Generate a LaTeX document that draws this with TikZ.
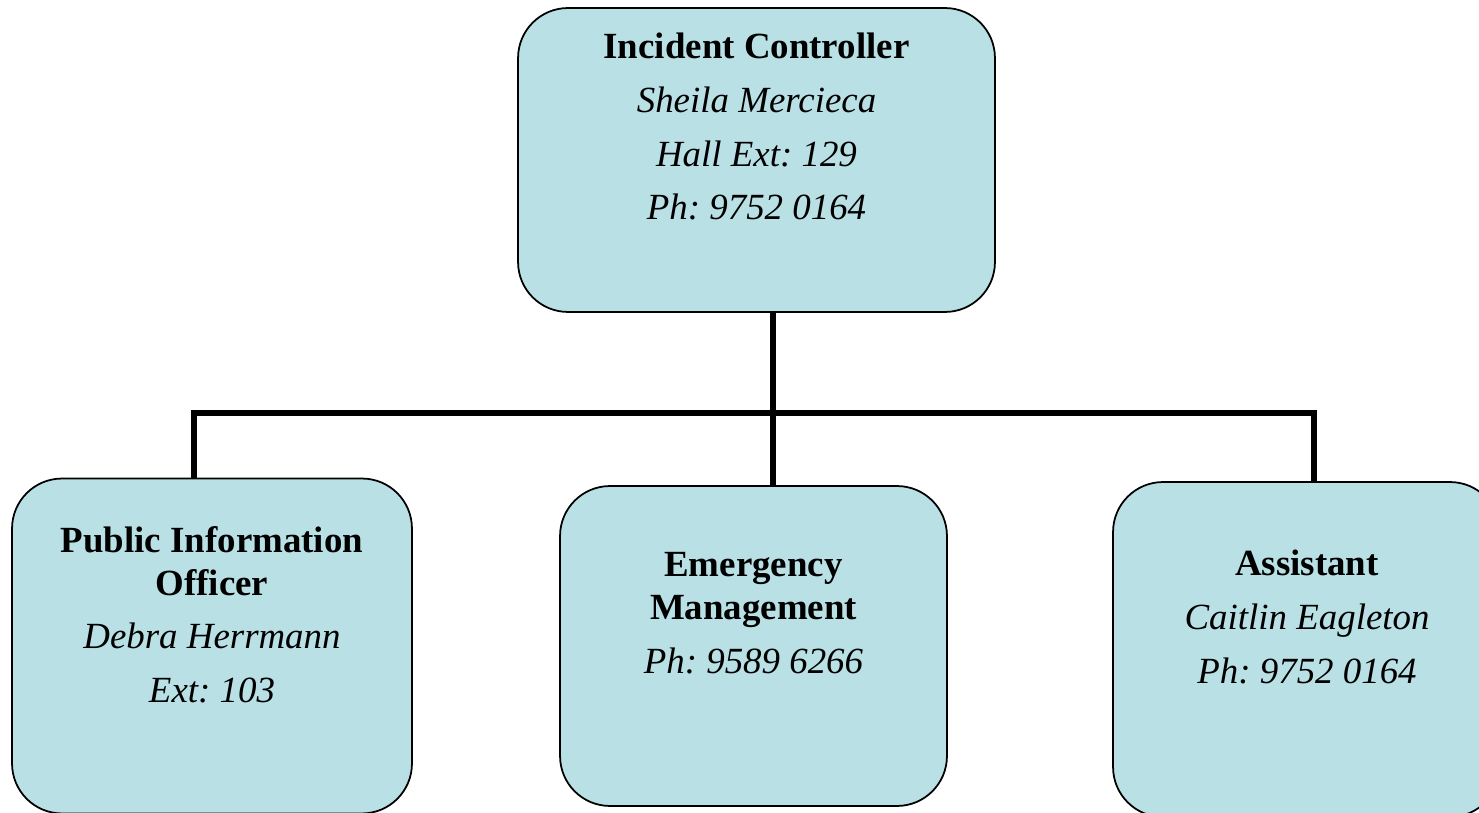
\documentclass[tikz,border=0pt]{standalone}
\usepackage{fontspec}
\setmainfont{Liberation Serif}
\usepackage{xcolor}
\usetikzlibrary{positioning}
\definecolor{boxteal}{RGB}{185, 224, 229}
\frenchspacing

\tikzset{
  orgbox/.style={draw, line width=1pt, fill=boxteal, rounded corners=1cm, inner sep=0pt},
  orgtext/.style={anchor=north, inner sep=0pt, align=center, font=\fontsize{21}{24.5}\selectfont},
  link/.style={line width=3pt}
}

\begin{document}
\begin{tikzpicture}[x=0.02cm, y=-0.02cm]
\useasboundingbox (0,0) rectangle (1479,813);
\clip (0,0) rectangle (1479,813);

% Incident controller
\node[orgbox, minimum width=9.54cm, minimum height=6.08cm] (ic) at (756.5,160) {};
\node[orgtext] (ictext) at (756.5,33) {\textbf{Incident Controller}\\[6pt]\textit{Sheila Mercieca}\\[6pt]\textit{Hall Ext: 129}\\[6pt]\textit{Ph: 9752 0164}};

% Public information officer
\node[orgbox, minimum width=8cm, minimum height=6.7cm] (pio) at (212,646) {};
\node[orgtext] (piotext) at (212,526) {\textbf{Public Information}\\\textbf{Officer}\\[6pt]\textit{Debra Herrmann}\\[6pt]\textit{Ext: 103}};

% Emergency management
\node[orgbox, minimum width=7.74cm, minimum height=6.4cm] (em) at (753.5,646) {};
\node[orgtext] (emtext) at (753.5,552) {\textbf{Emergency}\\\textbf{Management}\\[6pt]\textit{Ph: 9589 6266}};

% Assistant
\node[orgbox, minimum width=7.74cm, minimum height=6.7cm] (asst) at (1306.5,649.5) {};
\node[orgtext] (assttext) at (1307,550) {\textbf{Assistant}\\[6pt]\textit{Caitlin Eagleton}\\[6pt]\textit{Ph: 9752 0164}};

% Connectors
\coordinate (stem) at (773,413);
\coordinate (busL) at (194,413);
\coordinate (busR) at (1314,413);
\draw[link] (ic.south -| stem) -- (em.north -| stem);
\draw[link] (pio.north -| busL) -- (busL) -- (busR) -- (asst.north -| busR);
\end{tikzpicture}
\end{document}
